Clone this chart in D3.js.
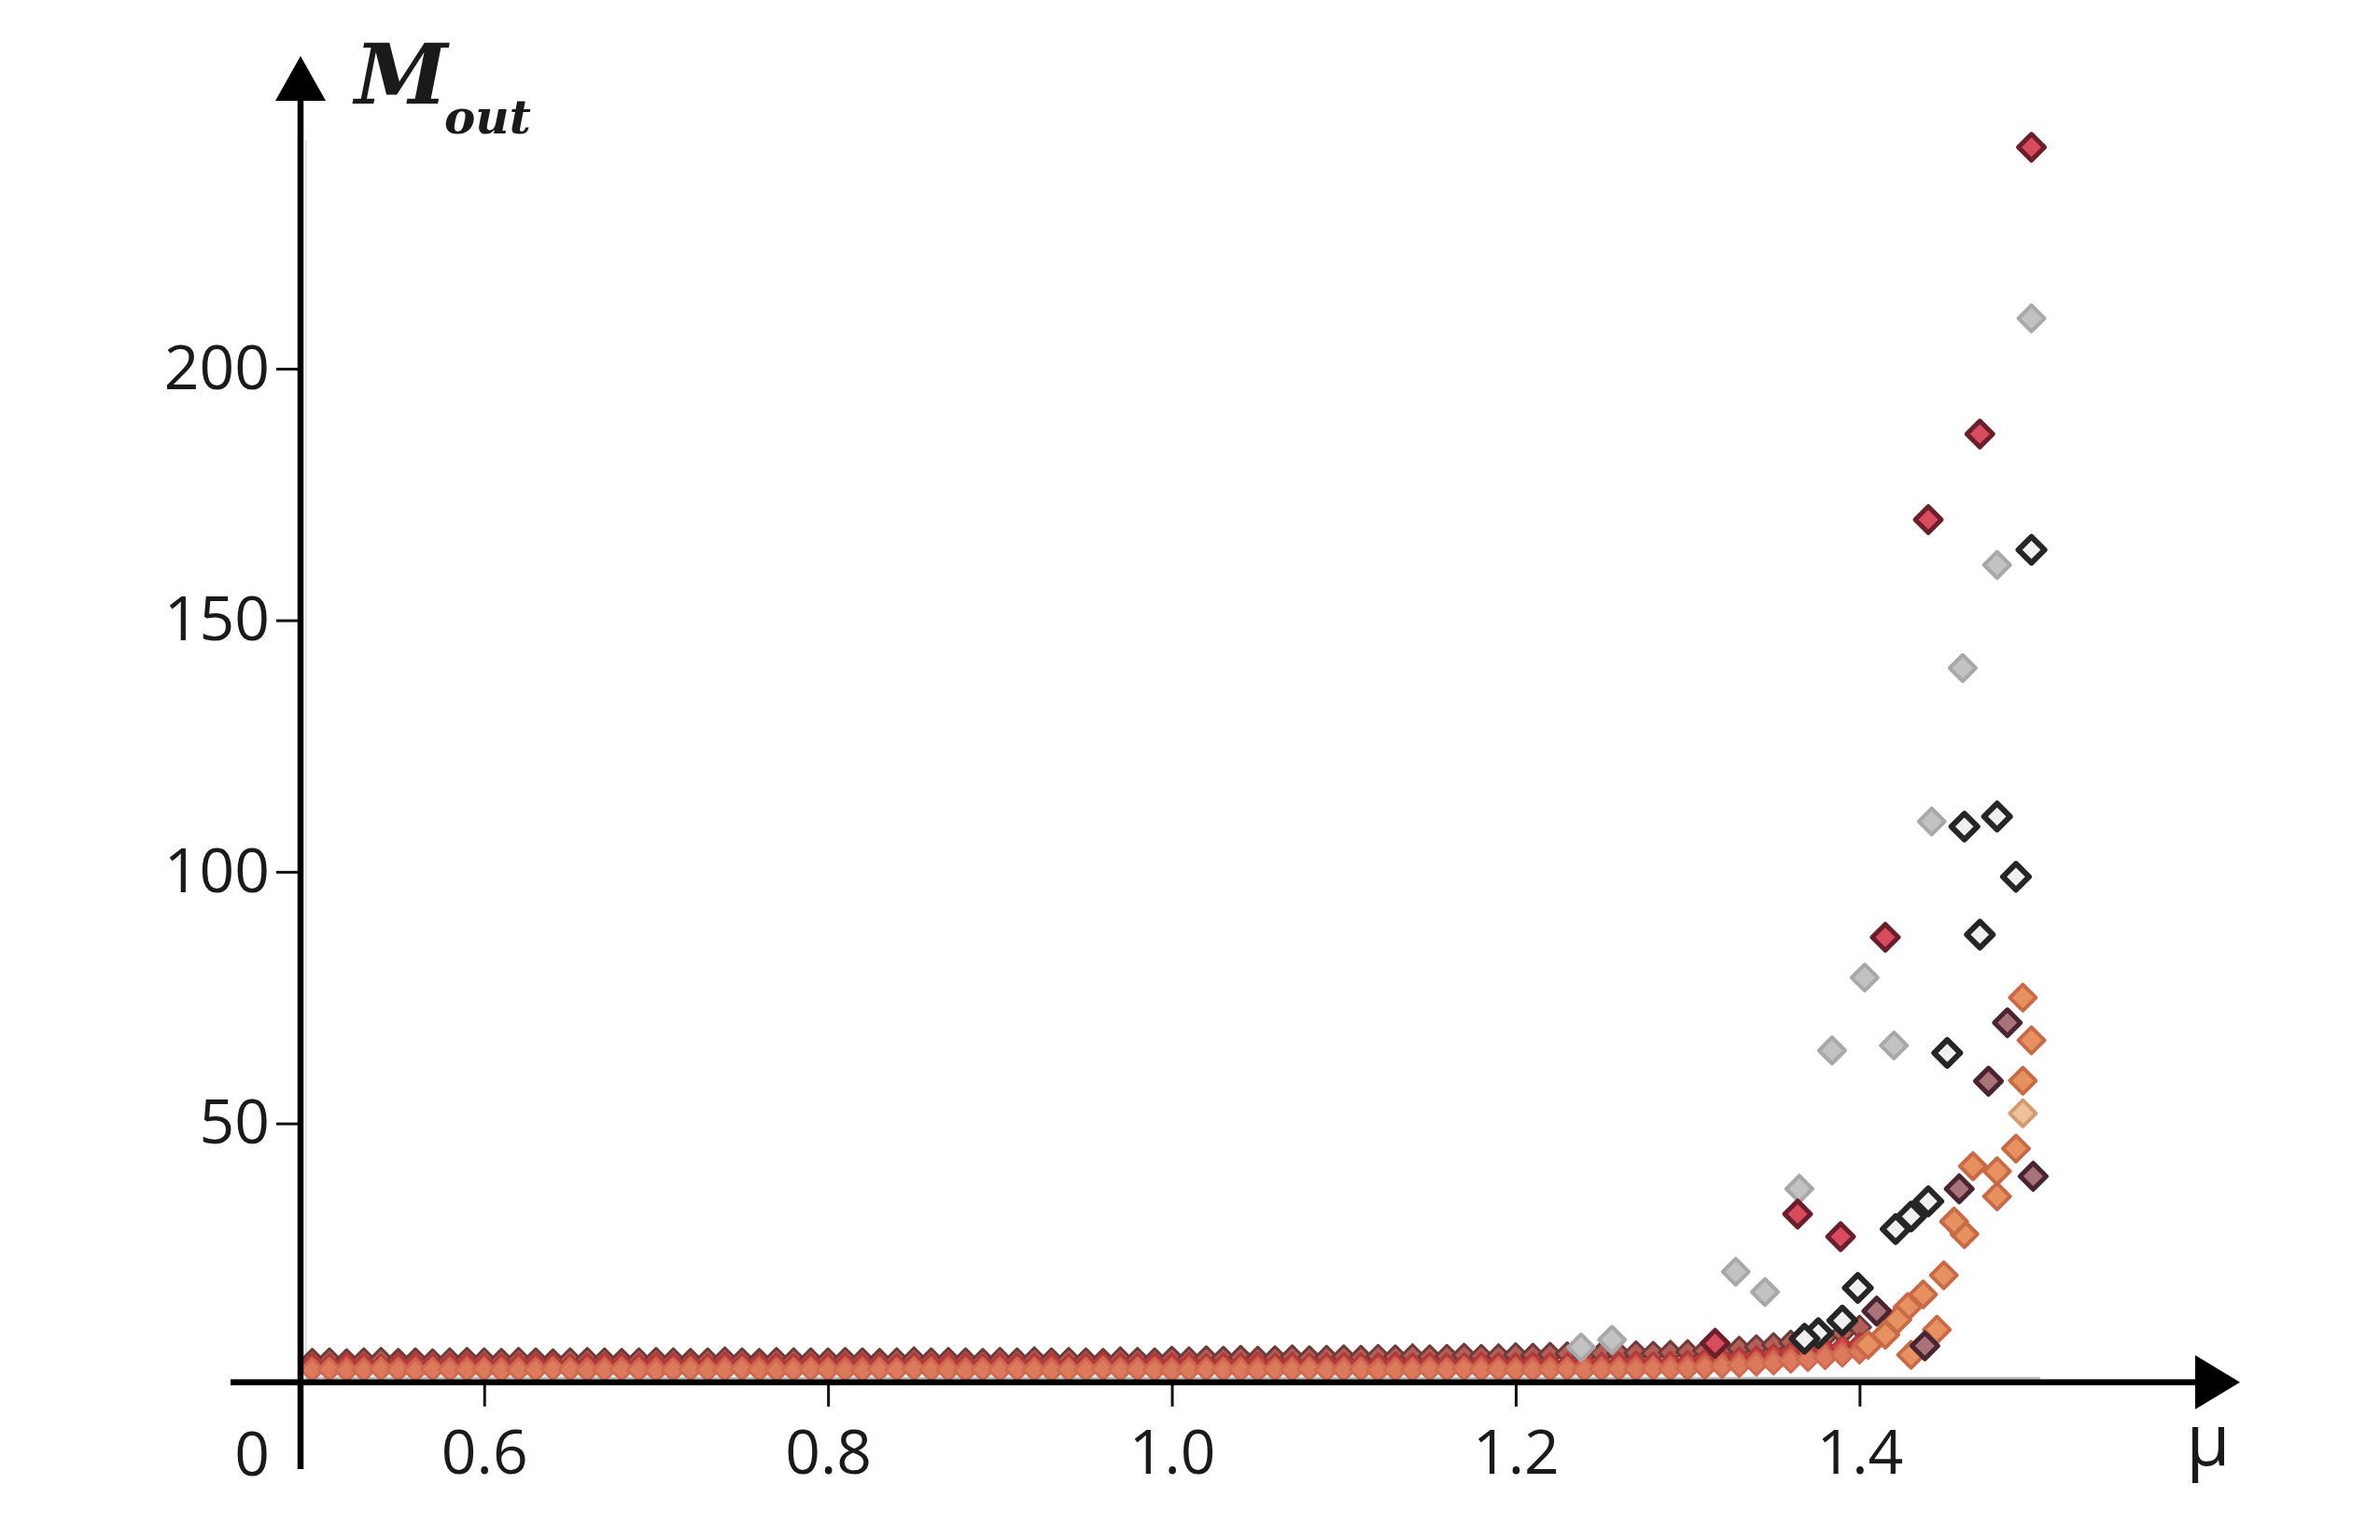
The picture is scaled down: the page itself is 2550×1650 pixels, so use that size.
<!DOCTYPE html>
<html>
<head>
<meta charset="utf-8">
<script src="https://cdn.jsdelivr.net/npm/d3@7"></script>
<style>
  html, body { margin: 0; padding: 0; background: #ffffff; }
  svg { display: block; }
</style>
</head>
<body>
<div id="chart"></div>
<script>
// ---------------- DATA ----------------
// shared μ grid for the dense band of low values
const muGrid = [
  0.50,0.51,0.52,0.53,0.54,0.55,0.56,0.57,0.58,0.59,
  0.60,0.61,0.62,0.63,0.64,0.65,0.66,0.67,0.68,0.69,
  0.70,0.71,0.72,0.73,0.74,0.75,0.76,0.77,0.78,0.79,
  0.80,0.81,0.82,0.83,0.84,0.85,0.86,0.87,0.88,0.89,
  0.90,0.91,0.92,0.93,0.94,0.95,0.96,0.97,0.98,0.99,
  1.00,1.01,1.02,1.03,1.04,1.05,1.06,1.07,1.08,1.09,
  1.10,1.11,1.12,1.13,1.14,1.15,1.16,1.17,1.18,1.19,
  1.20,1.21,1.22,1.23,1.24,1.25,1.26,1.27,1.28,1.29,
  1.30,1.31,1.32,1.33,1.34,1.35,1.36,1.37,1.38,1.39,
  1.40
];
const bandOrange = [
  1.0,1.1,0.9,1.0,1.2,1.0,0.9,1.1,1.0,1.0,
  1.1,0.9,1.0,1.0,1.2,1.1,0.9,1.0,1.1,1.0,
  0.9,1.0,1.1,1.0,1.0,1.2,1.0,0.9,1.0,1.1,
  1.0,1.0,0.9,1.1,1.0,1.2,1.0,1.0,0.9,1.1,
  1.0,1.1,1.0,0.9,1.0,1.0,1.2,1.0,1.1,1.0,
  0.9,1.0,1.1,1.0,1.0,0.9,1.1,1.0,1.2,1.0,
  1.0,1.1,0.9,1.0,1.0,1.1,1.0,1.2,1.0,1.1,
  1.0,1.0,1.1,1.2,1.0,1.1,1.2,1.1,1.3,1.2,
  1.3,1.5,1.7,1.9,2.2,2.4,2.8,3.1,3.5,4.0,
  4.6
];
const bandRed = [
  2.0,1.9,2.1,2.0,1.8,2.0,2.1,1.9,2.0,2.2,
  2.0,1.9,2.0,2.1,2.0,1.8,2.0,2.1,2.0,1.9,
  2.1,2.0,2.0,1.9,2.2,2.0,2.1,2.0,1.9,2.0,
  2.0,2.1,2.0,2.0,1.9,2.1,2.0,2.2,2.0,1.9,
  2.1,2.0,2.0,2.1,1.9,2.0,2.2,2.0,2.0,2.1,
  2.0,2.1,1.9,2.0,2.0,2.2,2.0,2.1,2.0,2.0,
  2.1,2.0,2.0,2.2,2.0,2.1,2.0,2.0,2.2,2.1,
  2.0,2.2,2.1,2.0,2.3,2.1,2.2,2.4,2.2,2.3,
  2.5,2.8,3.0,3.2,3.4,3.8,4.2,4.6,5.0,5.5,
  6.0
];
const bandDark = [
  2.9,3.0,2.8,3.0,3.1,2.9,3.0,2.8,3.0,3.1,
  3.0,2.9,3.1,3.0,2.8,3.0,3.1,3.0,2.9,3.0,
  3.1,3.0,2.9,3.0,3.2,3.0,2.9,3.1,3.0,3.0,
  3.0,3.1,3.0,2.9,3.0,3.2,3.0,3.1,3.0,2.9,
  3.1,3.0,3.2,3.0,3.1,3.0,2.9,3.2,3.1,3.0,
  3.3,3.2,3.4,3.3,3.5,3.3,3.4,3.6,3.4,3.5,
  3.6,3.5,3.7,3.6,3.8,3.6,3.7,3.9,3.7,3.8,
  4.0,3.9,4.1,4.2,4.0,4.3,4.2,4.4,4.3,4.5,
  4.6,4.8,5.0,5.3,5.6,6.0,6.5,7.0,7.6,8.3,
  9.5
];

// scattered points in the steep region: [μ, M_out]
const redPts = [[1.50,244],[1.47,187],[1.44,170],[1.415,87],[1.364,32],[1.389,27.5],[1.316,6.3]];
const grayPts = [[1.50,210],[1.48,161],[1.46,140.5],[1.442,110],[1.403,79],[1.384,64.5],[1.42,65.5],
                 [1.365,37],[1.328,20.5],[1.345,16.5],[1.256,7],[1.238,5.5]];
const blackPts = [[1.50,164],[1.48,111],[1.461,109],[1.491,99],[1.47,87.5],[1.451,64],
                  [1.421,29],[1.43,31.5],[1.44,34.5],[1.399,17.3],[1.39,10.8],[1.376,8.3],[1.368,7.2]];
const maroonPts = [[1.486,70],[1.475,58.4],[1.501,39.5],[1.458,37],[1.41,12.7],[1.438,5.8]];
const orangePts = [[1.495,75],[1.50,66.5],[1.495,58.5],[1.491,45],[1.466,41.5],[1.48,40.5],[1.48,35.5],
                   [1.461,28],[1.455,30.5],[1.449,19.8],[1.437,16],[1.428,13.5],[1.422,11],
                   [1.415,8],[1.405,6],[1.43,4],[1.445,9]];
const tanPts = [[1.495,52]];

const xTicks = [0.6, 0.8, 1.0, 1.2, 1.4];
const yTicks = [50, 100, 150, 200];

// ---------------- LAYOUT ----------------
const W = 2550, H = 1650;
const svg = d3.select("#chart").append("svg").attr("width", W).attr("height", H);

const x = d3.scaleLinear().domain([0.6, 1.4]).range([518.75, 1992.35]);
const y = d3.scaleLinear().domain([0, 200]).range([1473.2, 395]);

const axisX = 322;     // vertical axis line
const axisY = 1481;    // horizontal axis line
const FONT = "'Open Sans', 'Noto Sans', sans-serif";

// faint frame of the plotted image
svg.append("line").attr("x1", 327).attr("x2", 2186).attr("y1", 1476.5).attr("y2", 1476.5)
  .attr("stroke", "#b0b0b0").attr("stroke-width", 2);
svg.append("line").attr("x1", 328).attr("x2", 328).attr("y1", 150).attr("y2", 1476)
  .attr("stroke", "#e2e2e2").attr("stroke-width", 2);

// marker shape
function diamond(r) { return `M0,${-r}L${r},0L0,${r}L${-r},0Z`; }

function drawPoints(pts, style) {
  svg.append("g").selectAll("path").data(pts).join("path")
    .attr("d", diamond(style.r))
    .attr("transform", d => `translate(${x(d[0])},${y(d[1])})`)
    .attr("fill", style.fill)
    .attr("stroke", style.stroke)
    .attr("stroke-width", style.sw)
    .attr("stroke-linejoin", "round");
}

const bandDarkPts = muGrid.map((m, i) => [m, bandDark[i]]);
const bandRedPts = muGrid.map((m, i) => [m, bandRed[i]]);
const bandOrangePts = muGrid.map((m, i) => [m, bandOrange[i]]);

drawPoints(bandDarkPts, {r: 12, fill: "#b06058", stroke: "#6e3a3a", sw: 3});
drawPoints(bandRedPts, {r: 12, fill: "#cf4a45", stroke: "#b03a3a", sw: 3});
drawPoints(bandOrangePts, {r: 12, fill: "#dc7a5e", stroke: "#cf6a50", sw: 3});

drawPoints(grayPts, {r: 14, fill: "#c2c2c2", stroke: "#a8a8a8", sw: 4});
drawPoints(orangePts, {r: 14, fill: "#e6915f", stroke: "#c86a45", sw: 4});
drawPoints(tanPts, {r: 14, fill: "#edc29b", stroke: "#d49a70", sw: 4});
drawPoints(maroonPts, {r: 14, fill: "#a8747a", stroke: "#4a2430", sw: 5});
drawPoints(blackPts, {r: 14, fill: "#f0f0f0", stroke: "#262626", sw: 6});
drawPoints(redPts, {r: 14, fill: "#d94c5e", stroke: "#6b1f2b", sw: 5});

// ---------------- AXES ----------------
const gy = svg.append("g").attr("transform", `translate(${axisX - 2},0)`)
  .call(d3.axisLeft(y).tickValues(yTicks).tickSize(24).tickPadding(7).tickFormat(d3.format("d")));
gy.select(".domain").remove();
gy.selectAll(".tick line").attr("stroke", "#111").attr("stroke-width", 3);
gy.selectAll(".tick text").attr("font-family", FONT).attr("font-size", 66).attr("fill", "#1a1a1a");

const gx = svg.append("g").attr("transform", `translate(0,${axisY + 2})`)
  .call(d3.axisBottom(x).tickValues(xTicks).tickSize(24).tickPadding(25).tickFormat(d3.format(".1f")));
gx.select(".domain").remove();
gx.selectAll(".tick line").attr("stroke", "#111").attr("stroke-width", 3);
gx.selectAll(".tick text").attr("font-family", FONT).attr("font-size", 66).attr("fill", "#1a1a1a");

// axis lines with arrows
svg.append("line").attr("x1", axisX).attr("x2", axisX).attr("y1", 100).attr("y2", 1574)
  .attr("stroke", "#000").attr("stroke-width", 6.5);
svg.append("path").attr("d", `M${axisX},60L${axisX + 27},108L${axisX - 27},108Z`).attr("fill", "#000");

svg.append("line").attr("x1", 247).attr("x2", 2360).attr("y1", axisY).attr("y2", axisY)
  .attr("stroke", "#000").attr("stroke-width", 6.5);
svg.append("path").attr("d", `M2400,${axisY}L2352,${axisY - 29}L2352,${axisY + 29}Z`).attr("fill", "#000");

// origin label
svg.append("text").attr("x", 270).attr("y", 1581).attr("text-anchor", "middle")
  .attr("font-family", FONT).attr("font-size", 66).attr("fill", "#1a1a1a").text("0");

// μ label
svg.append("text").attr("x", 2366).attr("y", 1570).attr("text-anchor", "middle")
  .attr("font-family", FONT).attr("font-size", 76).attr("fill", "#1a1a1a").text("μ");

// M_out label
const lab = svg.append("text").attr("font-family", "'DejaVu Serif', serif")
  .attr("font-style", "italic").attr("font-weight", "bold").attr("fill", "#1a1a1a");
lab.append("tspan").attr("x", 380).attr("y", 111).attr("font-size", 90).text("M");
lab.append("tspan").attr("x", 476).attr("y", 143).attr("font-size", 50).text("out");
</script>
</body>
</html>
